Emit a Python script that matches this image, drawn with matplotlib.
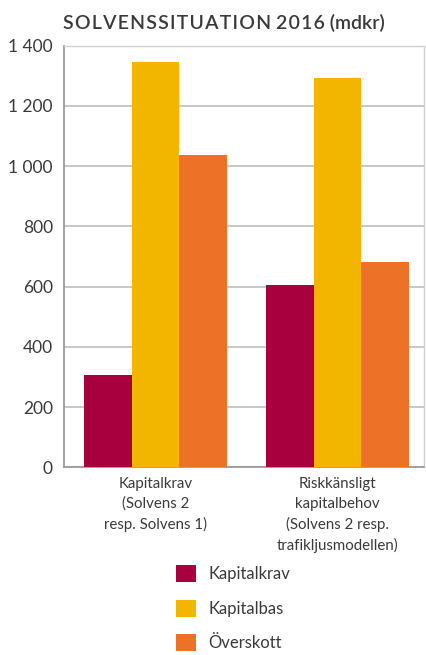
import matplotlib
matplotlib.use("Agg")
import matplotlib.pyplot as plt
from matplotlib.patches import Patch
from matplotlib.ticker import FuncFormatter, MultipleLocator
import numpy as np

# Solvency situation 2016, billions SEK
categories = [
    "Kapitalkrav\n(Solvens 2\nresp. Solvens 1)",
    "Riskkänsligt\nkapitalbehov\n(Solvens 2 resp.\ntrafikljusmodellen)",
]
series_names = ["Kapitalkrav", "Kapitalbas", "Överskott"]
kapitalkrav = [305, 605]
kapitalbas = [1345, 1293]
overskott = [1035, 683]
colors = ["#A8003F", "#F2B600", "#EE7128"]

FONT = ["Lato", "DejaVu Sans"]
TEXT = "#3a3a3a"

W, H = 427, 655
fig = plt.figure(figsize=(W / 100, H / 100), dpi=100)
fig.patch.set_facecolor("white")

ax_l, ax_r, ax_b, ax_t = 64, 423.5, 467.3, 45.5
ax = fig.add_axes([ax_l / W, (H - ax_b) / H, (ax_r - ax_l) / W, (ax_b - ax_t) / H])

x = np.arange(len(categories))
width = 0.262
for i, (vals, name, col) in enumerate(zip([kapitalkrav, kapitalbas, overskott], series_names, colors)):
    ax.bar(x + (i - 1) * width, vals, width, color=col, label=name, zorder=3, linewidth=0)

ax.set_xlim(-0.504, 1.473)
ax.set_ylim(0, 1400)
ax.yaxis.set_major_locator(MultipleLocator(200))
ax.yaxis.set_major_formatter(FuncFormatter(lambda v, p: f"{int(v):,}".replace(",", " ")))
ax.grid(axis="y", color="#c4c4c4", linewidth=1.3, zorder=0)
ax.set_axisbelow(True)

for side in ["top", "right"]:
    ax.spines[side].set_color("#d0d0d0")
    ax.spines[side].set_linewidth(1.0)
for side in ["left", "bottom"]:
    ax.spines[side].set_color("#9a9a9a")
    ax.spines[side].set_linewidth(1.3)

ax.tick_params(axis="y", length=0, pad=8, labelsize=12.5, labelcolor=TEXT)
for lab in ax.get_yticklabels():
    lab.set_family(FONT)
ax.set_xticks(x)
ax.set_xticklabels(categories, family=FONT, fontsize=10.8, color=TEXT, linespacing=1.5)
ax.tick_params(axis="x", length=0, pad=7)

fig.text(63 / W, 1 - 23 / H, "S O L V E N S S I T U A T I O N  2 0 1 6  (mdkr)".replace(" ", "\u200a").replace("\u200a\u200a", " "),
         ha="left", va="center", fontsize=14, color=TEXT, family=FONT, fontweight="semibold")

handles = [Patch(facecolor=c, edgecolor="none") for c in colors]
fig.legend(handles, series_names, loc="upper left", bbox_to_anchor=(176 / W, 1 - 565 / H),
           frameon=False, handlelength=1.2, handleheight=1.2,
           handletextpad=0.75, labelspacing=1.05, borderaxespad=0, borderpad=0,
           prop={"family": FONT, "size": 12}, labelcolor=TEXT)

fig.savefig("out.png", dpi=100)
